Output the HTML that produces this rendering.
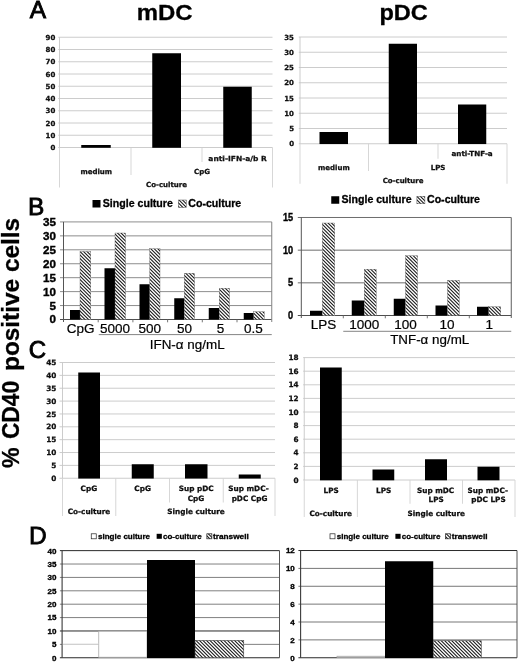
<!DOCTYPE html>
<html><head><meta charset="utf-8"><title>Figure</title>
<style>
html,body{margin:0;padding:0;background:#fff;}
body{width:520px;height:662px;overflow:hidden;}
svg{display:block;filter:blur(0.4px);}
text{fill:#000;}
.ab{font-family:"Liberation Sans","DejaVu Sans",sans-serif;font-weight:bold;}
.ar{font-family:"Liberation Sans","DejaVu Sans",sans-serif;font-weight:normal;}
.vb{font-family:"DejaVu Sans","Liberation Sans",sans-serif;font-weight:bold;fill:#111;}
</style></head><body>
<svg width="520" height="662" viewBox="0 0 520 662">
<defs>
<pattern id="h" width="7" height="7" patternUnits="userSpaceOnUse">
<rect width="7" height="7" fill="#fff"/>
<path d="M-1,-1L8,8M2.5,-1L8,4.5M-1,2.5L4.5,8M6,-1L8,1M-1,6L1,8" stroke="#1a1a1a" stroke-width="1.08" fill="none"/>
</pattern>
</defs>
<rect width="520" height="662" fill="#fff"/>

<text class="ar" x="29.8" y="17.6" font-size="24.5" stroke="#000" stroke-width="0.85">A</text>
<text class="ar" x="27.9" y="215.4" font-size="24.5" stroke="#000" stroke-width="0.8">B</text>
<text class="ar" x="28.7" y="357.9" font-size="24" stroke="#000" stroke-width="0.9">C</text>
<text class="ar" x="28.9" y="543.5" font-size="24.5" stroke="#000" stroke-width="0.8">D</text>
<text class="ab" transform="translate(164.6,20) scale(1.05,1)" font-size="22.8" text-anchor="middle" stroke="#000" stroke-width="0.3">mDC</text>
<text class="ab" transform="translate(403.6,19.6) scale(1.07,1)" font-size="22.0" text-anchor="middle" stroke="#000" stroke-width="0.3">pDC</text>
<text class="ab" transform="translate(19.4,467.9) rotate(-90) scale(0.965,1)" font-size="24" stroke="#000" stroke-width="0.3">%</text>
<text class="ab" transform="translate(19.4,439.1) rotate(-90) scale(0.951,1)" font-size="24" stroke="#000" stroke-width="0.3">CD40</text>
<text class="ab" transform="translate(19.4,371.0) rotate(-90) scale(1.016,1)" font-size="24" stroke="#000" stroke-width="0.3">positive cells</text>
<line x1="58.3" y1="147.5" x2="272.5" y2="147.5" stroke="#c6c6c6" stroke-width="0.9"/>
<text class="vb" x="55.3" y="150.06" font-size="7.0" text-anchor="end" stroke="#000" stroke-width="0.25">0</text>
<line x1="58.3" y1="135.25" x2="272.5" y2="135.25" stroke="#c6c6c6" stroke-width="0.9"/>
<text class="vb" x="55.3" y="137.81" font-size="7.0" text-anchor="end" stroke="#000" stroke-width="0.25">10</text>
<line x1="58.3" y1="123" x2="272.5" y2="123" stroke="#c6c6c6" stroke-width="0.9"/>
<text class="vb" x="55.3" y="125.56" font-size="7.0" text-anchor="end" stroke="#000" stroke-width="0.25">20</text>
<line x1="58.3" y1="110.75" x2="272.5" y2="110.75" stroke="#c6c6c6" stroke-width="0.9"/>
<text class="vb" x="55.3" y="113.31" font-size="7.0" text-anchor="end" stroke="#000" stroke-width="0.25">30</text>
<line x1="58.3" y1="98.5" x2="272.5" y2="98.5" stroke="#c6c6c6" stroke-width="0.9"/>
<text class="vb" x="55.3" y="101.06" font-size="7.0" text-anchor="end" stroke="#000" stroke-width="0.25">40</text>
<line x1="58.3" y1="86.25" x2="272.5" y2="86.25" stroke="#c6c6c6" stroke-width="0.9"/>
<text class="vb" x="55.3" y="88.81" font-size="7.0" text-anchor="end" stroke="#000" stroke-width="0.25">50</text>
<line x1="58.3" y1="74" x2="272.5" y2="74" stroke="#c6c6c6" stroke-width="0.9"/>
<text class="vb" x="55.3" y="76.56" font-size="7.0" text-anchor="end" stroke="#000" stroke-width="0.25">60</text>
<line x1="58.3" y1="61.75" x2="272.5" y2="61.75" stroke="#c6c6c6" stroke-width="0.9"/>
<text class="vb" x="55.3" y="64.31" font-size="7.0" text-anchor="end" stroke="#000" stroke-width="0.25">70</text>
<line x1="58.3" y1="49.5" x2="272.5" y2="49.5" stroke="#c6c6c6" stroke-width="0.9"/>
<text class="vb" x="55.3" y="52.05" font-size="7.0" text-anchor="end" stroke="#000" stroke-width="0.25">80</text>
<line x1="58.3" y1="37.25" x2="272.5" y2="37.25" stroke="#c6c6c6" stroke-width="0.9"/>
<text class="vb" x="55.3" y="39.8" font-size="7.0" text-anchor="end" stroke="#000" stroke-width="0.25">90</text>
<line x1="59.5" y1="37.25" x2="59.5" y2="147.5" stroke="#c6c6c6" stroke-width="0.9"/>
<line x1="59.5" y1="147.5" x2="59.5" y2="187.5" stroke="#d2d2d2" stroke-width="0.9"/>
<line x1="272.5" y1="147.5" x2="272.5" y2="187.5" stroke="#d2d2d2" stroke-width="0.9"/>
<line x1="131" y1="147.5" x2="131" y2="175" stroke="#d2d2d2" stroke-width="0.9"/>
<line x1="202" y1="147.5" x2="202" y2="162" stroke="#d2d2d2" stroke-width="0.9"/>
<rect x="81.25" y="145" width="29.5" height="2.8" fill="#000"/>
<rect x="152.25" y="53.25" width="28.75" height="94.55" fill="#000"/>
<rect x="223.25" y="86.75" width="28.5" height="61.05" fill="#000"/>
<text class="vb" x="96.25" y="173.56" font-size="7.0" text-anchor="middle" stroke="#000" stroke-width="0.25">medium</text>
<text class="vb" x="202" y="173.81" font-size="7.0" text-anchor="middle" stroke="#000" stroke-width="0.25">CpG</text>
<text class="vb" x="237.6" y="160.56" font-size="7.0" text-anchor="middle" stroke="#000" stroke-width="0.25" textLength="58.5" lengthAdjust="spacingAndGlyphs">anti-IFN-a/b R</text>
<text class="vb" x="166.5" y="186.81" font-size="7.0" text-anchor="middle" stroke="#000" stroke-width="0.25">Co-culture</text>
<line x1="298.8" y1="143.75" x2="507" y2="143.75" stroke="#c6c6c6" stroke-width="0.9"/>
<text class="vb" x="294" y="146.31" font-size="7.0" text-anchor="end" stroke="#000" stroke-width="0.25">0</text>
<line x1="298.8" y1="128.5" x2="507" y2="128.5" stroke="#c6c6c6" stroke-width="0.9"/>
<text class="vb" x="294" y="131.06" font-size="7.0" text-anchor="end" stroke="#000" stroke-width="0.25">5</text>
<line x1="298.8" y1="113.25" x2="507" y2="113.25" stroke="#c6c6c6" stroke-width="0.9"/>
<text class="vb" x="294" y="115.81" font-size="7.0" text-anchor="end" stroke="#000" stroke-width="0.25">10</text>
<line x1="298.8" y1="98" x2="507" y2="98" stroke="#c6c6c6" stroke-width="0.9"/>
<text class="vb" x="294" y="100.56" font-size="7.0" text-anchor="end" stroke="#000" stroke-width="0.25">15</text>
<line x1="298.8" y1="82.75" x2="507" y2="82.75" stroke="#c6c6c6" stroke-width="0.9"/>
<text class="vb" x="294" y="85.31" font-size="7.0" text-anchor="end" stroke="#000" stroke-width="0.25">20</text>
<line x1="298.8" y1="67.5" x2="507" y2="67.5" stroke="#c6c6c6" stroke-width="0.9"/>
<text class="vb" x="294" y="70.06" font-size="7.0" text-anchor="end" stroke="#000" stroke-width="0.25">25</text>
<line x1="298.8" y1="52.25" x2="507" y2="52.25" stroke="#c6c6c6" stroke-width="0.9"/>
<text class="vb" x="294" y="54.8" font-size="7.0" text-anchor="end" stroke="#000" stroke-width="0.25">30</text>
<line x1="298.8" y1="37" x2="507" y2="37" stroke="#c6c6c6" stroke-width="0.9"/>
<text class="vb" x="294" y="39.55" font-size="7.0" text-anchor="end" stroke="#000" stroke-width="0.25">35</text>
<line x1="300" y1="37" x2="300" y2="143.75" stroke="#c6c6c6" stroke-width="0.9"/>
<line x1="300" y1="143.75" x2="300" y2="183.75" stroke="#d2d2d2" stroke-width="0.9"/>
<line x1="507" y1="143.75" x2="507" y2="183.75" stroke="#d2d2d2" stroke-width="0.9"/>
<line x1="368.5" y1="143.75" x2="368.5" y2="171" stroke="#d2d2d2" stroke-width="0.9"/>
<line x1="438" y1="143.75" x2="438" y2="158.75" stroke="#d2d2d2" stroke-width="0.9"/>
<rect x="319.5" y="132" width="28.5" height="12.05" fill="#000"/>
<rect x="388.75" y="43.75" width="28.25" height="100.3" fill="#000"/>
<rect x="458" y="104.5" width="28.25" height="39.55" fill="#000"/>
<text class="vb" x="333.9" y="169.81" font-size="7.0" text-anchor="middle" stroke="#000" stroke-width="0.25">medium</text>
<text class="vb" x="438" y="169.56" font-size="7.0" text-anchor="middle" stroke="#000" stroke-width="0.25">LPS</text>
<text class="vb" x="472.1" y="156.31" font-size="7.0" text-anchor="middle" stroke="#000" stroke-width="0.25" textLength="41.3" lengthAdjust="spacingAndGlyphs">anti-TNF-a</text>
<text class="vb" x="403.1" y="183.16" font-size="7.0" text-anchor="middle" stroke="#000" stroke-width="0.25">Co-culture</text>
<line x1="59.5" y1="478.25" x2="275" y2="478.25" stroke="#c6c6c6" stroke-width="0.9"/>
<text class="vb" x="56.4" y="480.91" font-size="7.3" text-anchor="end" stroke="#000" stroke-width="0.25">0</text>
<line x1="59.5" y1="465.39" x2="275" y2="465.39" stroke="#c6c6c6" stroke-width="0.9"/>
<text class="vb" x="56.4" y="468.05" font-size="7.3" text-anchor="end" stroke="#000" stroke-width="0.25">5</text>
<line x1="59.5" y1="452.53" x2="275" y2="452.53" stroke="#c6c6c6" stroke-width="0.9"/>
<text class="vb" x="56.4" y="455.19" font-size="7.3" text-anchor="end" stroke="#000" stroke-width="0.25">10</text>
<line x1="59.5" y1="439.67" x2="275" y2="439.67" stroke="#c6c6c6" stroke-width="0.9"/>
<text class="vb" x="56.4" y="442.33" font-size="7.3" text-anchor="end" stroke="#000" stroke-width="0.25">15</text>
<line x1="59.5" y1="426.81" x2="275" y2="426.81" stroke="#c6c6c6" stroke-width="0.9"/>
<text class="vb" x="56.4" y="429.47" font-size="7.3" text-anchor="end" stroke="#000" stroke-width="0.25">20</text>
<line x1="59.5" y1="413.95" x2="275" y2="413.95" stroke="#c6c6c6" stroke-width="0.9"/>
<text class="vb" x="56.4" y="416.61" font-size="7.3" text-anchor="end" stroke="#000" stroke-width="0.25">25</text>
<line x1="59.5" y1="401.09" x2="275" y2="401.09" stroke="#c6c6c6" stroke-width="0.9"/>
<text class="vb" x="56.4" y="403.75" font-size="7.3" text-anchor="end" stroke="#000" stroke-width="0.25">30</text>
<line x1="59.5" y1="388.23" x2="275" y2="388.23" stroke="#c6c6c6" stroke-width="0.9"/>
<text class="vb" x="56.4" y="390.89" font-size="7.3" text-anchor="end" stroke="#000" stroke-width="0.25">35</text>
<line x1="59.5" y1="375.37" x2="275" y2="375.37" stroke="#c6c6c6" stroke-width="0.9"/>
<text class="vb" x="56.4" y="378.03" font-size="7.3" text-anchor="end" stroke="#000" stroke-width="0.25">40</text>
<line x1="59.5" y1="362.51" x2="275" y2="362.51" stroke="#c6c6c6" stroke-width="0.9"/>
<text class="vb" x="56.4" y="365.17" font-size="7.3" text-anchor="end" stroke="#000" stroke-width="0.25">45</text>
<line x1="62.5" y1="362.51" x2="62.5" y2="478.25" stroke="#c6c6c6" stroke-width="0.9"/>
<line x1="62.5" y1="478.25" x2="62.5" y2="516" stroke="#d2d2d2" stroke-width="0.9"/>
<line x1="275" y1="478.25" x2="275" y2="516" stroke="#d2d2d2" stroke-width="0.9"/>
<line x1="115.75" y1="478.25" x2="115.75" y2="516" stroke="#d2d2d2" stroke-width="0.9"/>
<line x1="169.5" y1="478.25" x2="169.5" y2="502.5" stroke="#d2d2d2" stroke-width="0.9"/>
<line x1="223.25" y1="478.25" x2="223.25" y2="502.5" stroke="#d2d2d2" stroke-width="0.9"/>
<rect x="78.25" y="372.5" width="21.75" height="106.05" fill="#000"/>
<rect x="131.75" y="464.25" width="22" height="14.3" fill="#000"/>
<rect x="185" y="464.25" width="22.5" height="14.3" fill="#000"/>
<rect x="238.75" y="474.5" width="22" height="4.05" fill="#000"/>
<text class="vb" x="88.9" y="490.91" font-size="7.3" text-anchor="middle" stroke="#000" stroke-width="0.25">CpG</text>
<text class="vb" x="142.6" y="490.91" font-size="7.3" text-anchor="middle" stroke="#000" stroke-width="0.25">CpG</text>
<text class="vb" x="196.25" y="490.91" font-size="7.3" text-anchor="middle" stroke="#000" stroke-width="0.25">Sup pDC</text>
<text class="vb" x="196" y="500.91" font-size="7.3" text-anchor="middle" stroke="#000" stroke-width="0.25">CpG</text>
<text class="vb" x="248.5" y="490.91" font-size="7.3" text-anchor="middle" stroke="#000" stroke-width="0.25">Sup mDC-</text>
<text class="vb" x="249.5" y="500.91" font-size="7.3" text-anchor="middle" stroke="#000" stroke-width="0.25">pDC CpG</text>
<text class="vb" x="89" y="514.41" font-size="7.3" text-anchor="middle" stroke="#000" stroke-width="0.25">Co-culture</text>
<text class="vb" x="196" y="514.41" font-size="7.3" text-anchor="middle" stroke="#000" stroke-width="0.25">Single culture</text>
<line x1="303.2" y1="480" x2="515" y2="480" stroke="#c6c6c6" stroke-width="0.9"/>
<text class="vb" x="298.6" y="482.66" font-size="7.3" text-anchor="end" stroke="#000" stroke-width="0.25">0</text>
<line x1="303.2" y1="466.4" x2="515" y2="466.4" stroke="#c6c6c6" stroke-width="0.9"/>
<text class="vb" x="298.6" y="469.06" font-size="7.3" text-anchor="end" stroke="#000" stroke-width="0.25">2</text>
<line x1="303.2" y1="452.8" x2="515" y2="452.8" stroke="#c6c6c6" stroke-width="0.9"/>
<text class="vb" x="298.6" y="455.46" font-size="7.3" text-anchor="end" stroke="#000" stroke-width="0.25">4</text>
<line x1="303.2" y1="439.2" x2="515" y2="439.2" stroke="#c6c6c6" stroke-width="0.9"/>
<text class="vb" x="298.6" y="441.86" font-size="7.3" text-anchor="end" stroke="#000" stroke-width="0.25">6</text>
<line x1="303.2" y1="425.6" x2="515" y2="425.6" stroke="#c6c6c6" stroke-width="0.9"/>
<text class="vb" x="298.6" y="428.26" font-size="7.3" text-anchor="end" stroke="#000" stroke-width="0.25">8</text>
<line x1="303.2" y1="412" x2="515" y2="412" stroke="#c6c6c6" stroke-width="0.9"/>
<text class="vb" x="298.6" y="414.66" font-size="7.3" text-anchor="end" stroke="#000" stroke-width="0.25">10</text>
<line x1="303.2" y1="398.4" x2="515" y2="398.4" stroke="#c6c6c6" stroke-width="0.9"/>
<text class="vb" x="298.6" y="401.06" font-size="7.3" text-anchor="end" stroke="#000" stroke-width="0.25">12</text>
<line x1="303.2" y1="384.8" x2="515" y2="384.8" stroke="#c6c6c6" stroke-width="0.9"/>
<text class="vb" x="298.6" y="387.46" font-size="7.3" text-anchor="end" stroke="#000" stroke-width="0.25">14</text>
<line x1="303.2" y1="371.2" x2="515" y2="371.2" stroke="#c6c6c6" stroke-width="0.9"/>
<text class="vb" x="298.6" y="373.86" font-size="7.3" text-anchor="end" stroke="#000" stroke-width="0.25">16</text>
<line x1="303.2" y1="357.6" x2="515" y2="357.6" stroke="#c6c6c6" stroke-width="0.9"/>
<text class="vb" x="298.6" y="360.26" font-size="7.3" text-anchor="end" stroke="#000" stroke-width="0.25">18</text>
<line x1="304.25" y1="357.6" x2="304.25" y2="480" stroke="#c6c6c6" stroke-width="0.9"/>
<line x1="304.25" y1="480" x2="304.25" y2="517" stroke="#d2d2d2" stroke-width="0.9"/>
<line x1="515" y1="480" x2="515" y2="517" stroke="#d2d2d2" stroke-width="0.9"/>
<line x1="357.4" y1="480" x2="357.4" y2="517" stroke="#d2d2d2" stroke-width="0.9"/>
<line x1="410" y1="480" x2="410" y2="503.75" stroke="#d2d2d2" stroke-width="0.9"/>
<line x1="462.5" y1="480" x2="462.5" y2="503.75" stroke="#d2d2d2" stroke-width="0.9"/>
<rect x="320" y="367.5" width="21.75" height="112.8" fill="#000"/>
<rect x="372.5" y="469.5" width="21.75" height="10.8" fill="#000"/>
<rect x="425" y="459.25" width="22" height="21.05" fill="#000"/>
<rect x="477.5" y="466.75" width="22" height="13.55" fill="#000"/>
<text class="vb" x="331.25" y="492.66" font-size="7.3" text-anchor="middle" stroke="#000" stroke-width="0.25">LPS</text>
<text class="vb" x="383.75" y="492.66" font-size="7.3" text-anchor="middle" stroke="#000" stroke-width="0.25">LPS</text>
<text class="vb" x="435.6" y="492.66" font-size="7.3" text-anchor="middle" stroke="#000" stroke-width="0.25">Sup mDC</text>
<text class="vb" x="436.25" y="502.16" font-size="7.3" text-anchor="middle" stroke="#000" stroke-width="0.25">LPS</text>
<text class="vb" x="487.75" y="492.66" font-size="7.3" text-anchor="middle" stroke="#000" stroke-width="0.25">Sup mDC-</text>
<text class="vb" x="488.5" y="502.16" font-size="7.3" text-anchor="middle" stroke="#000" stroke-width="0.25">pDC LPS</text>
<text class="vb" x="330.75" y="515.91" font-size="7.3" text-anchor="middle" stroke="#000" stroke-width="0.25">Co-culture</text>
<text class="vb" x="436.25" y="515.91" font-size="7.3" text-anchor="middle" stroke="#000" stroke-width="0.25">Single culture</text>
<line x1="60" y1="319.5" x2="271.75" y2="319.5" stroke="#3a3a3a" stroke-width="0.9"/>
<text class="ab" transform="translate(55.9,323.44) scale(1.06,1)" font-size="11" text-anchor="end" stroke="#000" stroke-width="0.35">0</text>
<line x1="60" y1="305.56" x2="271.75" y2="305.56" stroke="#808080" stroke-width="0.9"/>
<text class="ab" transform="translate(55.9,309.5) scale(1.06,1)" font-size="11" text-anchor="end" stroke="#000" stroke-width="0.35">5</text>
<line x1="60" y1="291.62" x2="271.75" y2="291.62" stroke="#808080" stroke-width="0.9"/>
<text class="ab" transform="translate(55.9,295.56) scale(1.06,1)" font-size="11" text-anchor="end" stroke="#000" stroke-width="0.35">10</text>
<line x1="60" y1="277.68" x2="271.75" y2="277.68" stroke="#808080" stroke-width="0.9"/>
<text class="ab" transform="translate(55.9,281.62) scale(1.06,1)" font-size="11" text-anchor="end" stroke="#000" stroke-width="0.35">15</text>
<line x1="60" y1="263.74" x2="271.75" y2="263.74" stroke="#808080" stroke-width="0.9"/>
<text class="ab" transform="translate(55.9,267.68) scale(1.06,1)" font-size="11" text-anchor="end" stroke="#000" stroke-width="0.35">20</text>
<line x1="60" y1="249.8" x2="271.75" y2="249.8" stroke="#808080" stroke-width="0.9"/>
<text class="ab" transform="translate(55.9,253.74) scale(1.06,1)" font-size="11" text-anchor="end" stroke="#000" stroke-width="0.35">25</text>
<line x1="60" y1="235.86" x2="271.75" y2="235.86" stroke="#808080" stroke-width="0.9"/>
<text class="ab" transform="translate(55.9,239.8) scale(1.06,1)" font-size="11" text-anchor="end" stroke="#000" stroke-width="0.35">30</text>
<line x1="60" y1="221.92" x2="271.75" y2="221.92" stroke="#808080" stroke-width="0.9"/>
<text class="ab" transform="translate(55.9,225.86) scale(1.06,1)" font-size="11" text-anchor="end" stroke="#000" stroke-width="0.35">35</text>
<line x1="63.5" y1="221.92" x2="63.5" y2="322" stroke="#555" stroke-width="1"/>
<line x1="271.75" y1="221.92" x2="271.75" y2="322" stroke="#808080" stroke-width="1"/>
<line x1="98.2" y1="319.5" x2="98.2" y2="322.3" stroke="#666" stroke-width="0.9"/>
<line x1="132.9" y1="319.5" x2="132.9" y2="322.3" stroke="#666" stroke-width="0.9"/>
<line x1="167.6" y1="319.5" x2="167.6" y2="322.3" stroke="#666" stroke-width="0.9"/>
<line x1="202.3" y1="319.5" x2="202.3" y2="322.3" stroke="#666" stroke-width="0.9"/>
<line x1="237" y1="319.5" x2="237" y2="322.3" stroke="#666" stroke-width="0.9"/>
<rect x="70" y="310" width="10" height="9.5" fill="#000"/>
<rect x="80" y="251.5" width="10.75" height="68" fill="url(#h)" stroke="#555" stroke-width="0.35"/>
<rect x="104.5" y="268.25" width="10.5" height="51.25" fill="#000"/>
<rect x="115" y="233" width="10.5" height="86.5" fill="url(#h)" stroke="#555" stroke-width="0.35"/>
<rect x="139.5" y="284.25" width="10.25" height="35.25" fill="#000"/>
<rect x="149.75" y="248.75" width="10.25" height="70.75" fill="url(#h)" stroke="#555" stroke-width="0.35"/>
<rect x="174.25" y="298.25" width="10" height="21.25" fill="#000"/>
<rect x="184.25" y="273.25" width="10.25" height="46.25" fill="url(#h)" stroke="#555" stroke-width="0.35"/>
<rect x="208.75" y="308" width="10.5" height="11.5" fill="#000"/>
<rect x="219.25" y="288.25" width="10.25" height="31.25" fill="url(#h)" stroke="#555" stroke-width="0.35"/>
<rect x="243.75" y="313" width="10" height="6.5" fill="#000"/>
<rect x="253.75" y="311.75" width="10.5" height="7.75" fill="url(#h)" stroke="#555" stroke-width="0.35"/>
<text class="ar" transform="translate(80.6,333.3) scale(1.04,1)" font-size="13" text-anchor="middle" stroke="#000" stroke-width="0.2">CpG</text>
<text class="ar" transform="translate(114.9,333.3) scale(1.04,1)" font-size="13" text-anchor="middle" stroke="#000" stroke-width="0.2">5000</text>
<text class="ar" transform="translate(149.7,333.3) scale(1.04,1)" font-size="13" text-anchor="middle" stroke="#000" stroke-width="0.2">500</text>
<text class="ar" transform="translate(184.4,333.3) scale(1.04,1)" font-size="13" text-anchor="middle" stroke="#000" stroke-width="0.2">50</text>
<text class="ar" transform="translate(220.4,333.3) scale(1.04,1)" font-size="13" text-anchor="middle" stroke="#000" stroke-width="0.2">5</text>
<text class="ar" transform="translate(253.4,333.3) scale(1.04,1)" font-size="13" text-anchor="middle" stroke="#000" stroke-width="0.2">0.5</text>
<line x1="98.75" y1="334.6" x2="271.75" y2="334.6" stroke="#777" stroke-width="0.9"/>
<text class="ar" transform="translate(187.2,348.6) scale(1.035,1)" font-size="13" text-anchor="middle" stroke="#000" stroke-width="0.2">IFN-α ng/mL</text>
<line x1="297.8" y1="315.5" x2="511.25" y2="315.5" stroke="#3a3a3a" stroke-width="0.9"/>
<text class="ab" transform="translate(293.1,319.08) scale(0.92,1)" font-size="10" text-anchor="end" stroke="#000" stroke-width="0.35">0</text>
<line x1="297.8" y1="282.83" x2="511.25" y2="282.83" stroke="#5c5c5c" stroke-width="0.9"/>
<text class="ab" transform="translate(293.1,286.41) scale(0.92,1)" font-size="10" text-anchor="end" stroke="#000" stroke-width="0.35">5</text>
<line x1="297.8" y1="250.16" x2="511.25" y2="250.16" stroke="#5c5c5c" stroke-width="0.9"/>
<text class="ab" transform="translate(293.1,253.74) scale(0.92,1)" font-size="10" text-anchor="end" stroke="#000" stroke-width="0.35">10</text>
<line x1="297.8" y1="217.49" x2="511.25" y2="217.49" stroke="#5c5c5c" stroke-width="0.9"/>
<text class="ab" transform="translate(293.1,221.07) scale(0.92,1)" font-size="10" text-anchor="end" stroke="#000" stroke-width="0.35">15</text>
<line x1="301.3" y1="217.49" x2="301.3" y2="318" stroke="#555" stroke-width="1"/>
<line x1="511.25" y1="217.49" x2="511.25" y2="318" stroke="#5c5c5c" stroke-width="1"/>
<line x1="343.3" y1="315.5" x2="343.3" y2="318.3" stroke="#666" stroke-width="0.9"/>
<line x1="385.3" y1="315.5" x2="385.3" y2="318.3" stroke="#666" stroke-width="0.9"/>
<line x1="427.3" y1="315.5" x2="427.3" y2="318.3" stroke="#666" stroke-width="0.9"/>
<line x1="469.3" y1="315.5" x2="469.3" y2="318.3" stroke="#666" stroke-width="0.9"/>
<rect x="310" y="310.75" width="12.3" height="4.75" fill="#000"/>
<rect x="322.3" y="223" width="12.4" height="92.5" fill="url(#h)" stroke="#555" stroke-width="0.35"/>
<rect x="351.75" y="300.5" width="12.5" height="15" fill="#000"/>
<rect x="364.25" y="269.25" width="12" height="46.25" fill="url(#h)" stroke="#555" stroke-width="0.35"/>
<rect x="393.75" y="298.75" width="11.75" height="16.75" fill="#000"/>
<rect x="405.5" y="255.75" width="12" height="59.75" fill="url(#h)" stroke="#555" stroke-width="0.35"/>
<rect x="435.5" y="305.5" width="12" height="10" fill="#000"/>
<rect x="447.5" y="280.4" width="11.75" height="35.1" fill="url(#h)" stroke="#555" stroke-width="0.35"/>
<rect x="477" y="306.75" width="11.75" height="8.75" fill="#000"/>
<rect x="488.75" y="306.75" width="12" height="8.75" fill="url(#h)" stroke="#555" stroke-width="0.35"/>
<text class="ar" transform="translate(323.4,329.3) scale(1.04,1)" font-size="13" text-anchor="middle" stroke="#000" stroke-width="0.2">LPS</text>
<text class="ar" transform="translate(364.2,329.3) scale(1.04,1)" font-size="13" text-anchor="middle" stroke="#000" stroke-width="0.2">1000</text>
<text class="ar" transform="translate(405.6,329.3) scale(1.04,1)" font-size="13" text-anchor="middle" stroke="#000" stroke-width="0.2">100</text>
<text class="ar" transform="translate(446.9,329.3) scale(1.04,1)" font-size="13" text-anchor="middle" stroke="#000" stroke-width="0.2">10</text>
<text class="ar" transform="translate(489.3,329.3) scale(1.04,1)" font-size="13" text-anchor="middle" stroke="#000" stroke-width="0.2">1</text>
<line x1="343.25" y1="331.3" x2="511.25" y2="331.3" stroke="#777" stroke-width="0.9"/>
<text class="ar" transform="translate(429.7,344.2) scale(1.03,1)" font-size="13" text-anchor="middle" stroke="#000" stroke-width="0.2">TNF-α ng/mL</text>
<rect x="92.5" y="200" width="8" height="7.5" fill="#000"/>
<text class="ab" x="102.8" y="207" font-size="10.6" stroke="#000" stroke-width="0.3">Single culture</text>
<rect x="178.25" y="200" width="8" height="7.5" fill="url(#h)" stroke="#555" stroke-width="0.5"/>
<text class="ab" x="188.3" y="207" font-size="10.6" stroke="#000" stroke-width="0.3">Co-culture</text>
<rect x="331.25" y="196.25" width="8" height="7.5" fill="#000"/>
<text class="ab" x="341.5" y="203.2" font-size="10.6" stroke="#000" stroke-width="0.3">Single culture</text>
<rect x="416.9" y="196.25" width="8" height="7.5" fill="url(#h)" stroke="#555" stroke-width="0.5"/>
<text class="ab" x="427" y="203.2" font-size="10.6" stroke="#000" stroke-width="0.3">Co-culture</text>
<line x1="59.9" y1="657.75" x2="279.5" y2="657.75" stroke="#2a2a2a" stroke-width="1"/>
<text class="ab" x="56.4" y="660.65" font-size="8" text-anchor="end" stroke="#000" stroke-width="0.35">0</text>
<line x1="59.9" y1="644.36" x2="279.5" y2="644.36" stroke="#808080" stroke-width="1"/>
<text class="ab" x="56.4" y="647.26" font-size="8" text-anchor="end" stroke="#000" stroke-width="0.35">5</text>
<line x1="59.9" y1="630.97" x2="279.5" y2="630.97" stroke="#2a2a2a" stroke-width="1"/>
<text class="ab" x="56.4" y="633.87" font-size="8" text-anchor="end" stroke="#000" stroke-width="0.35">10</text>
<line x1="59.9" y1="617.58" x2="279.5" y2="617.58" stroke="#808080" stroke-width="1"/>
<text class="ab" x="56.4" y="620.48" font-size="8" text-anchor="end" stroke="#000" stroke-width="0.35">15</text>
<line x1="59.9" y1="604.19" x2="279.5" y2="604.19" stroke="#808080" stroke-width="1"/>
<text class="ab" x="56.4" y="607.09" font-size="8" text-anchor="end" stroke="#000" stroke-width="0.35">20</text>
<line x1="59.9" y1="590.8" x2="279.5" y2="590.8" stroke="#808080" stroke-width="1"/>
<text class="ab" x="56.4" y="593.7" font-size="8" text-anchor="end" stroke="#000" stroke-width="0.35">25</text>
<line x1="59.9" y1="577.41" x2="279.5" y2="577.41" stroke="#808080" stroke-width="1"/>
<text class="ab" x="56.4" y="580.31" font-size="8" text-anchor="end" stroke="#000" stroke-width="0.35">30</text>
<line x1="59.9" y1="564.02" x2="279.5" y2="564.02" stroke="#808080" stroke-width="1"/>
<text class="ab" x="56.4" y="566.92" font-size="8" text-anchor="end" stroke="#000" stroke-width="0.35">35</text>
<line x1="59.9" y1="550.63" x2="279.5" y2="550.63" stroke="#2a2a2a" stroke-width="1"/>
<text class="ab" x="56.4" y="553.53" font-size="8" text-anchor="end" stroke="#000" stroke-width="0.35">40</text>
<line x1="62.1" y1="550.63" x2="62.1" y2="657.75" stroke="#3a3a3a" stroke-width="1.1"/>
<line x1="279.5" y1="550.63" x2="279.5" y2="657.75" stroke="#555" stroke-width="1"/>
<rect x="98.75" y="631.25" width="48.25" height="26" fill="#fff" stroke="#aaa" stroke-width="0.8"/>
<rect x="147" y="560" width="48" height="98.05" fill="#000"/>
<rect x="195" y="640.4" width="48.75" height="17.35" fill="url(#h)" stroke="#444" stroke-width="0.6"/>
<line x1="62.8" y1="644.36" x2="98.3" y2="644.36" stroke="#fff" stroke-width="1.6"/>
<line x1="62.8" y1="644.36" x2="98.3" y2="644.36" stroke="#c4c4c4" stroke-width="0.9"/>
<line x1="298.4" y1="657.75" x2="517" y2="657.75" stroke="#2a2a2a" stroke-width="1"/>
<text class="ab" x="294.8" y="660.65" font-size="8" text-anchor="end" stroke="#000" stroke-width="0.35">0</text>
<line x1="298.4" y1="639.88" x2="517" y2="639.88" stroke="#5e5e5e" stroke-width="0.85"/>
<text class="ab" x="294.8" y="642.78" font-size="8" text-anchor="end" stroke="#000" stroke-width="0.35">2</text>
<line x1="298.4" y1="622.01" x2="517" y2="622.01" stroke="#5e5e5e" stroke-width="0.85"/>
<text class="ab" x="294.8" y="624.91" font-size="8" text-anchor="end" stroke="#000" stroke-width="0.35">4</text>
<line x1="298.4" y1="604.14" x2="517" y2="604.14" stroke="#5e5e5e" stroke-width="0.85"/>
<text class="ab" x="294.8" y="607.04" font-size="8" text-anchor="end" stroke="#000" stroke-width="0.35">6</text>
<line x1="298.4" y1="586.27" x2="517" y2="586.27" stroke="#5e5e5e" stroke-width="0.85"/>
<text class="ab" x="294.8" y="589.17" font-size="8" text-anchor="end" stroke="#000" stroke-width="0.35">8</text>
<line x1="298.4" y1="568.4" x2="517" y2="568.4" stroke="#5e5e5e" stroke-width="0.85"/>
<text class="ab" x="294.8" y="571.3" font-size="8" text-anchor="end" stroke="#000" stroke-width="0.35">10</text>
<line x1="298.4" y1="550.53" x2="517" y2="550.53" stroke="#2a2a2a" stroke-width="1"/>
<text class="ab" x="294.8" y="553.43" font-size="8" text-anchor="end" stroke="#000" stroke-width="0.35">12</text>
<line x1="300.6" y1="550.53" x2="300.6" y2="657.75" stroke="#3a3a3a" stroke-width="1.1"/>
<line x1="517" y1="550.53" x2="517" y2="657.75" stroke="#555" stroke-width="1"/>
<rect x="337" y="656.25" width="48" height="1" fill="#fff" stroke="#aaa" stroke-width="0.8"/>
<rect x="385" y="561.25" width="48.25" height="96.8" fill="#000"/>
<rect x="433.25" y="640.75" width="48" height="17" fill="url(#h)" stroke="#444" stroke-width="0.6"/>
<rect x="91.25" y="533.8" width="5" height="5" fill="#fff" stroke="#222" stroke-width="0.7"/>
<text class="ab" x="98.05" y="538.6" font-size="8" stroke="#000" stroke-width="0.3">single culture</text>
<rect x="156.65" y="533.8" width="5.2" height="5" fill="#000"/>
<text class="ab" x="162.95" y="538.6" font-size="8" stroke="#000" stroke-width="0.3">co-culture</text>
<rect x="206.85" y="533.8" width="5" height="5" fill="url(#h)" stroke="#222" stroke-width="0.7"/>
<text class="ab" transform="translate(212.95,538.6) scale(1.035,1)" font-size="8" stroke="#000" stroke-width="0.3">transwell</text>
<rect x="330" y="533.8" width="5" height="5" fill="#fff" stroke="#222" stroke-width="0.7"/>
<text class="ab" x="336.8" y="538.6" font-size="8" stroke="#000" stroke-width="0.3">single culture</text>
<rect x="395.4" y="533.8" width="5.2" height="5" fill="#000"/>
<text class="ab" x="401.7" y="538.6" font-size="8" stroke="#000" stroke-width="0.3">co-culture</text>
<rect x="445.6" y="533.8" width="5" height="5" fill="url(#h)" stroke="#222" stroke-width="0.7"/>
<text class="ab" transform="translate(451.7,538.6) scale(1.035,1)" font-size="8" stroke="#000" stroke-width="0.3">transwell</text>
</svg></body></html>
